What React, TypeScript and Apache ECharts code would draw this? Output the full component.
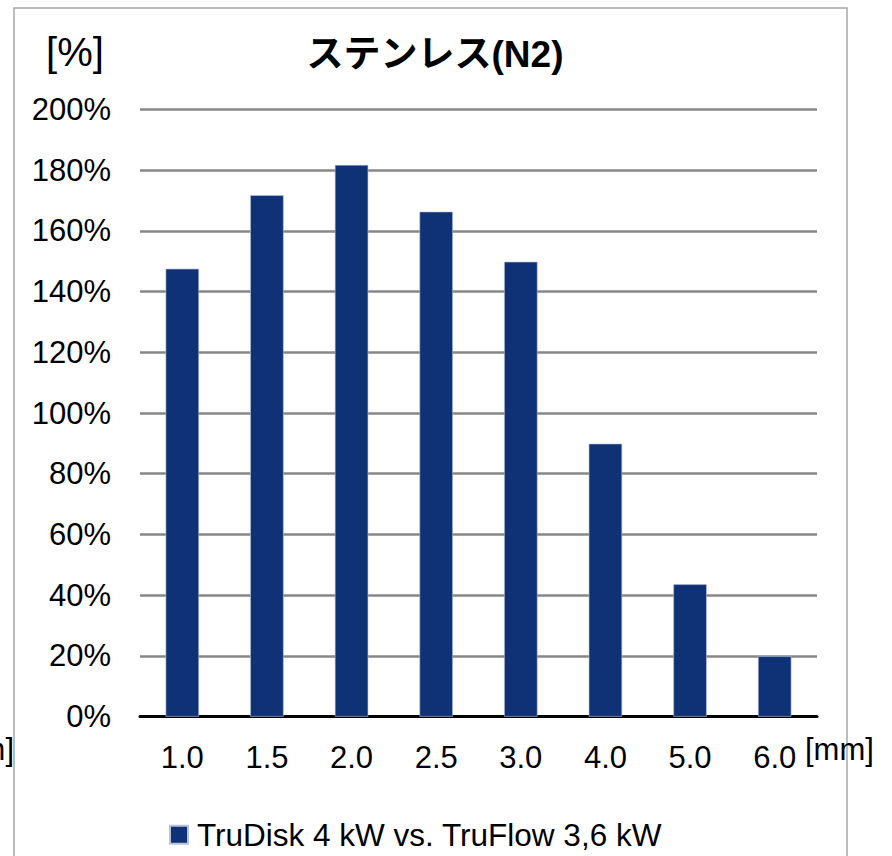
import React, { useEffect, useRef } from "react";
import * as echarts from "echarts";

const categories = ["1.0", "1.5", "2.0", "2.5", "3.0", "4.0", "5.0", "6.0"];
const seriesName = "TruDisk 4 kW vs. TruFlow 3,6 kW";
const values = [147.5, 171.7, 181.7, 166.3, 149.8, 89.9, 43.6, 19.9];
const titleText = "ステンレス(N2)";
const yUnit = "[%]";
const xUnit = "[mm]";

const FONT = '"Liberation Sans", Arial, "Noto Sans CJK JP", sans-serif';

export default function App() {
  const ref = useRef<HTMLDivElement>(null);
  useEffect(() => {
    if (!ref.current) return;
    const chart = echarts.init(ref.current, undefined, { renderer: "svg" });
    chart.setOption({
      animation: false,
      backgroundColor: "#ffffff",
      title: {
        text: titleText,
        left: 430,
        top: 31,
        textAlign: "center",
        textStyle: {
          fontFamily: '"Liberation Sans", "Noto Sans CJK JP", sans-serif',
          fontWeight: "bold",
          fontSize: 37,
          color: "#000",
        },
      },
      legend: {
        left: 164,
        top: 814,
        icon: "rect",
        itemWidth: 18,
        itemHeight: 18,
        textStyle: { fontFamily: FONT, fontSize: 31.5, color: "#000", padding: [0, 0, 0, 4] },
        data: [seriesName],
      },
      grid: { left: 140, right: 75, top: 109.3, bottom: 139.3, containLabel: false },
      xAxis: {
        type: "category",
        data: categories,
        axisLine: { show: true, lineStyle: { color: "#000", width: 3 } },
        axisTick: { show: false },
        axisLabel: { fontFamily: FONT, fontSize: 31, color: "#000", margin: 25 },
      },
      yAxis: {
        type: "value",
        min: 0,
        max: 200,
        interval: 20,
        axisLine: { show: false },
        axisTick: { show: false },
        axisLabel: {
          fontFamily: FONT,
          fontSize: 31,
          color: "#000",
          margin: 29,
          formatter: (v: number) => `${v}%`,
        },
        splitLine: { show: true, lineStyle: { color: "#878787", width: 2.5 } },
      },
      graphic: [
        {
          type: "rect",
          shape: { x: 14, y: 8, width: 833, height: 900 },
          style: { fill: "none", stroke: "#a6a6a6", lineWidth: 1.5 },
          silent: true,
        },
        {
          type: "text",
          x: 75,
          y: 52,
          style: {
            text: yUnit,
            fontFamily: FONT,
            fontSize: 40,
            fill: "#000",
            textAlign: "center",
            textVerticalAlign: "middle",
          },
        },
        {
          type: "text",
          x: 805,
          y: 749,
          style: {
            text: xUnit,
            fontFamily: FONT,
            fontSize: 31,
            fill: "#000",
            textAlign: "left",
            textVerticalAlign: "middle",
          },
        },
        {
          type: "text",
          x: 14,
          y: 749,
          style: {
            text: xUnit,
            fontFamily: FONT,
            fontSize: 31,
            fill: "#000",
            textAlign: "right",
            textVerticalAlign: "middle",
          },
        },
      ],
      series: [
        {
          name: seriesName,
          type: "bar",
          data: values,
          barWidth: "39.5%",
          itemStyle: { color: "#0f3175", borderColor: "#b8c2dc", borderWidth: 0.6 },
        },
      ],
    });
    return () => chart.dispose();
  }, []);
  return (
    <div
      ref={ref}
      style={{ position: "absolute", left: 0, top: 0, width: 892, height: 856 }}
    />
  );
}
